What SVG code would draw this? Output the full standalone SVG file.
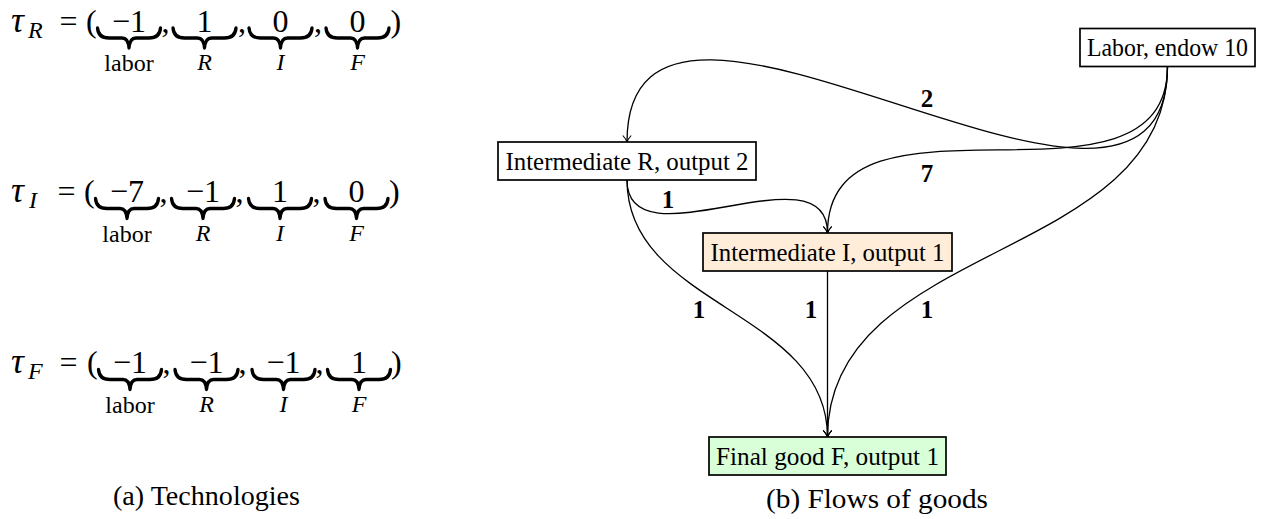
<svg xmlns="http://www.w3.org/2000/svg" width="1263" height="519" viewBox="0 0 1263 519">
<style>
.m{font-size:32px;fill:#000}
.t{font-size:36px}
.it{font-style:italic}
.s{font-size:24px}
.c{text-anchor:middle}
.nt{font-size:25px;fill:#000;text-anchor:middle}
.lb{font-size:25px;font-weight:bold;fill:#000;text-anchor:middle}
.cap{font-size:27px;fill:#000}
.box{stroke:#000;stroke-width:1.7}
.e{fill:none;stroke:#000;stroke-width:1.3}
.br{fill:none;stroke:#000;stroke-width:3.3;stroke-linecap:round;stroke-linejoin:round}
</style>
<defs>
<path id="ub" class="br" d="M0.5,0 C1,6.5 4.5,10 12,10 L25,10 C29.5,10 31.5,13 32,20 C32.5,13 34.5,10 39,10 L52,10 C59.5,10 63,6.5 63.5,0"/>
<marker id="arr" viewBox="-8 -6 10 12" refX="0" refY="0" markerWidth="10" markerHeight="12" markerUnits="userSpaceOnUse" orient="auto">
<path d="M-6.5,-4.2 C-3.8,-1.7 -1.3,-0.4 0,0 C-1.3,0.4 -3.8,1.7 -6.5,4.2" fill="none" stroke="#000" stroke-width="1.1"/>
</marker>
</defs>
<rect width="1263" height="519" fill="#fff"/>

<g id="tech-R" font-family="Liberation Serif, serif">
<text font-family="Liberation Serif, serif" class="m t it" x="11" y="31.5">τ</text><text font-family="Liberation Serif, serif" class="m it s" x="28" y="37.5">R</text>
<text font-family="Liberation Serif, serif" class="m c" x="68.5" y="31.5">=</text>
<text font-family="Liberation Serif, serif" class="m" x="86" y="31.5">(</text>
<use href="#ub" x="97" y="28"/><text font-family="Liberation Serif, serif" class="m c" x="129" y="31.5">−1</text><text font-family="Liberation Serif, serif" class="m" x="161.5" y="31.5">,</text>
<use href="#ub" x="172.5" y="28"/><text font-family="Liberation Serif, serif" class="m c" x="204.5" y="31.5">1</text><text font-family="Liberation Serif, serif" class="m" x="238" y="31.5">,</text>
<use href="#ub" x="248.5" y="28"/><text font-family="Liberation Serif, serif" class="m c" x="280.5" y="31.5">0</text><text font-family="Liberation Serif, serif" class="m" x="314" y="31.5">,</text>
<use href="#ub" x="325.5" y="28"/><text font-family="Liberation Serif, serif" class="m c" x="357.5" y="31.5">0</text>
<text font-family="Liberation Serif, serif" class="m" x="390.5" y="31.5">)</text>
<text font-family="Liberation Serif, serif" class="m s c" x="129" y="71">labor</text>
<text font-family="Liberation Serif, serif" class="m s c it" x="204.5" y="70">R</text>
<text font-family="Liberation Serif, serif" class="m s c it" x="280.5" y="70">I</text>
<text font-family="Liberation Serif, serif" class="m s c it" x="357.5" y="70">F</text>
</g>

<g id="tech-I" font-family="Liberation Serif, serif">
<text font-family="Liberation Serif, serif" class="m t it" x="11" y="201.5">τ</text><text font-family="Liberation Serif, serif" class="m it s" x="29" y="207.5">I</text>
<text font-family="Liberation Serif, serif" class="m c" x="66.5" y="201.5">=</text>
<text font-family="Liberation Serif, serif" class="m" x="84" y="201.5">(</text>
<use href="#ub" x="95" y="198.5"/><text font-family="Liberation Serif, serif" class="m c" x="127" y="201.5">−7</text><text font-family="Liberation Serif, serif" class="m" x="159.5" y="201.5">,</text>
<use href="#ub" x="171" y="198.5"/><text font-family="Liberation Serif, serif" class="m c" x="203" y="201.5">−1</text><text font-family="Liberation Serif, serif" class="m" x="235.5" y="201.5">,</text>
<use href="#ub" x="248" y="198.5"/><text font-family="Liberation Serif, serif" class="m c" x="280" y="201.5">1</text><text font-family="Liberation Serif, serif" class="m" x="312.5" y="201.5">,</text>
<use href="#ub" x="324.5" y="198.5"/><text font-family="Liberation Serif, serif" class="m c" x="356.5" y="201.5">0</text>
<text font-family="Liberation Serif, serif" class="m" x="389" y="201.5">)</text>
<text font-family="Liberation Serif, serif" class="m s c" x="127" y="242">labor</text>
<text font-family="Liberation Serif, serif" class="m s c it" x="203" y="241">R</text>
<text font-family="Liberation Serif, serif" class="m s c it" x="280" y="241">I</text>
<text font-family="Liberation Serif, serif" class="m s c it" x="356.5" y="241">F</text>
</g>

<g id="tech-F" font-family="Liberation Serif, serif">
<text font-family="Liberation Serif, serif" class="m t it" x="11" y="372.5">τ</text><text font-family="Liberation Serif, serif" class="m it s" x="28" y="378.5">F</text>
<text font-family="Liberation Serif, serif" class="m c" x="68.5" y="372.5">=</text>
<text font-family="Liberation Serif, serif" class="m" x="87" y="372.5">(</text>
<use href="#ub" x="98" y="369.5"/><text font-family="Liberation Serif, serif" class="m c" x="130" y="372.5">−1</text><text font-family="Liberation Serif, serif" class="m" x="162.5" y="372.5">,</text>
<use href="#ub" x="174.5" y="369.5"/><text font-family="Liberation Serif, serif" class="m c" x="206.5" y="372.5">−1</text><text font-family="Liberation Serif, serif" class="m" x="238.5" y="372.5">,</text>
<use href="#ub" x="251.5" y="369.5"/><text font-family="Liberation Serif, serif" class="m c" x="283.5" y="372.5">−1</text><text font-family="Liberation Serif, serif" class="m" x="315.5" y="372.5">,</text>
<use href="#ub" x="327" y="369.5"/><text font-family="Liberation Serif, serif" class="m c" x="359" y="372.5">1</text>
<text font-family="Liberation Serif, serif" class="m" x="391" y="372.5">)</text>
<text font-family="Liberation Serif, serif" class="m s c" x="130" y="413">labor</text>
<text font-family="Liberation Serif, serif" class="m s c it" x="206.5" y="412">R</text>
<text font-family="Liberation Serif, serif" class="m s c it" x="283.5" y="412">I</text>
<text font-family="Liberation Serif, serif" class="m s c it" x="359" y="412">F</text>
</g>

<text font-family="Liberation Serif, serif" class="cap" x="113" y="505" textLength="187" lengthAdjust="spacingAndGlyphs">(a) Technologies</text>

<g id="connectors" font-family="Liberation Serif, serif">
<path class="e" marker-end="url(#arr)" d="M1167.5,66.5 C1167.5,316 627,-108 627,142"/>
<path class="e" marker-end="url(#arr)" d="M1167.5,66.5 C1167.5,230 827.5,70 827.5,233"/>
<path class="e" marker-end="url(#arr)" d="M1167.5,66.5 C1167.5,263 827.5,240 827.5,437"/>
<path class="e" marker-end="url(#arr)" d="M627,180 C627,268 827.5,145 827.5,233"/>
<path class="e" marker-end="url(#arr)" d="M627,180 C627,307 827.5,310 827.5,437"/>
<path class="e" marker-end="url(#arr)" d="M827.5,271 L827.5,437"/>
<text font-family="Liberation Serif, serif" class="lb" x="927" y="107">2</text>
<text font-family="Liberation Serif, serif" class="lb" x="927" y="182">7</text>
<text font-family="Liberation Serif, serif" class="lb" x="668" y="208">1</text>
<text font-family="Liberation Serif, serif" class="lb" x="699" y="318">1</text>
<text font-family="Liberation Serif, serif" class="lb" x="811" y="318">1</text>
<text font-family="Liberation Serif, serif" class="lb" x="927" y="318">1</text>
</g>

<g id="labor">
<rect class="box" x="1080" y="28.5" width="175" height="38" fill="#fff"/>
<text font-family="Liberation Serif, serif" class="nt" x="1167.5" y="56" textLength="161" lengthAdjust="spacingAndGlyphs">Labor, endow 10</text>
</g>
<g id="interR">
<rect class="box" x="498" y="142" width="258" height="38" fill="#fff"/>
<text font-family="Liberation Serif, serif" class="nt" x="627" y="169.5" textLength="243" lengthAdjust="spacingAndGlyphs">Intermediate R, output 2</text>
</g>
<g id="interI">
<rect class="box" x="703" y="233" width="249" height="38" fill="#ffedd9"/>
<text font-family="Liberation Serif, serif" class="nt" x="827.5" y="260.5" textLength="234" lengthAdjust="spacingAndGlyphs">Intermediate I, output 1</text>
</g>
<g id="final">
<rect class="box" x="709" y="437" width="237" height="38" fill="#d9ffd9"/>
<text font-family="Liberation Serif, serif" class="nt" x="827.5" y="464.5" textLength="223" lengthAdjust="spacingAndGlyphs">Final good F, output 1</text>
</g>

<text font-family="Liberation Serif, serif" class="cap" x="766" y="508" textLength="222" lengthAdjust="spacingAndGlyphs">(b)  Flows of goods</text>
</svg>
